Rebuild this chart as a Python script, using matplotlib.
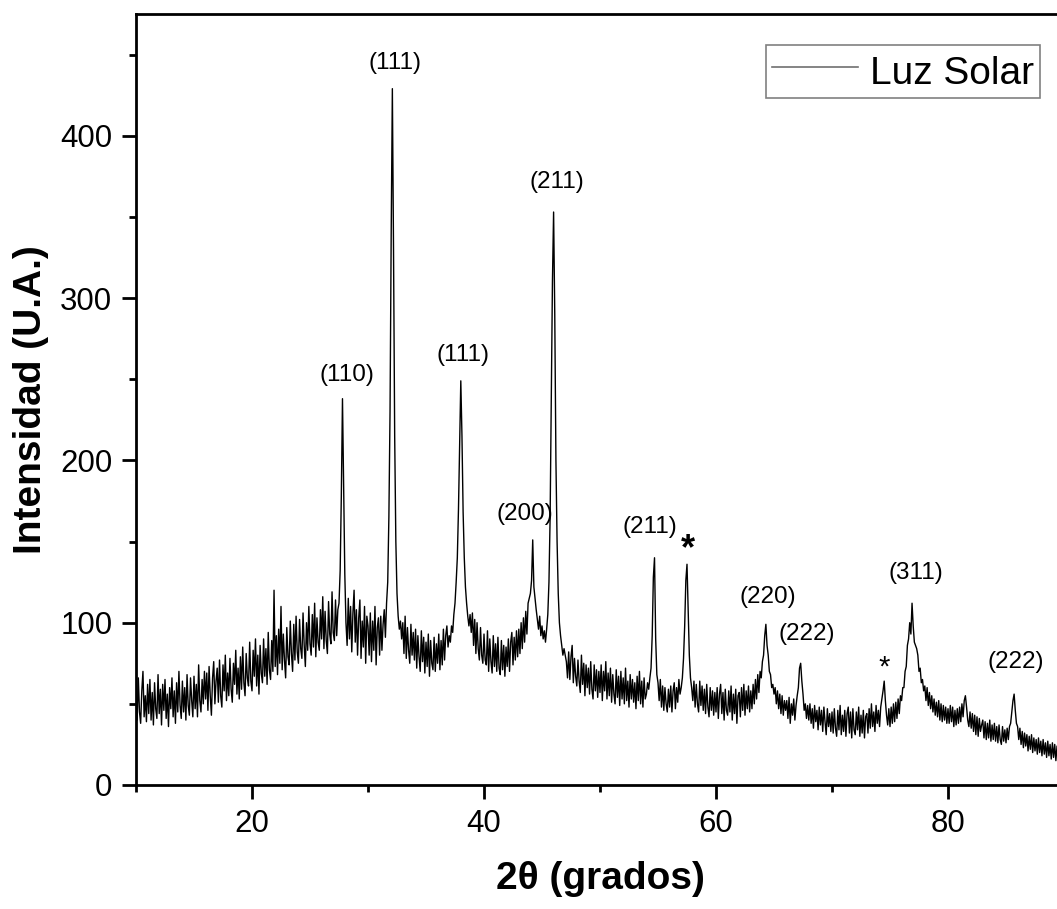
import numpy as np
import matplotlib
matplotlib.use("Agg")
import matplotlib.pyplot as plt
from matplotlib.ticker import MultipleLocator

plt.rcParams['font.family'] = ['Liberation Sans', 'DejaVu Sans']

# scan grid, 2theta from 10 to 90 in steps of 0.1
two_theta = np.round(np.arange(10.0, 90.05, 0.1), 1)

# intensity, one row per degree
intensity = [
    60, 40, 66, 45, 38, 58, 70, 42, 55, 39,     # 10
    62, 44, 65, 40, 57, 37, 63, 47, 41, 68,     # 11
    44, 59, 37, 62, 46, 65, 41, 56, 36, 60,     # 12
    47, 66, 42, 58, 38, 63, 45, 70, 49, 41,     # 13
    64, 45, 60, 40, 68, 49, 43, 66, 52, 42,     # 14
    67, 47, 62, 42, 74, 52, 45, 65, 50, 70,     # 15
    53, 69, 46, 73, 55, 43, 66, 76, 50, 64,     # 16
    72, 51, 77, 55, 48, 74, 58, 80, 52, 69,     # 17
    55, 78, 59, 51, 75, 62, 83, 56, 72, 53,     # 18
    79, 59, 85, 63, 55, 81, 66, 61, 88, 64,     # 19
    58, 83, 67, 90, 61, 80, 56, 86, 69, 63,     # 20
    90, 67, 84, 62, 94, 71, 65, 89, 70, 120,    # 21
    73, 92, 68, 96, 75, 110, 71, 93, 77, 66,    # 22
    97, 79, 74, 101, 81, 70, 99, 77, 104, 82,   # 23
    75, 102, 84, 78, 106, 86, 73, 100, 83, 110, # 24
    87, 80, 105, 85, 112, 79, 103, 88, 83, 108, # 25
    90, 116, 84, 107, 89, 81, 113, 93, 87, 119, # 26
    94, 89, 114, 92, 108, 112, 132, 178, 238, 182,  # 27
    130, 100, 86, 115, 90, 110, 82, 106, 120, 88,   # 28
    108, 80, 103, 114, 78, 101, 85, 110, 75, 104,   # 29
    98, 80, 106, 76, 101, 83, 110, 74, 97, 103,     # 30
    80, 104, 83, 99, 108, 91, 112, 125, 165, 230,   # 31
    340, 429, 330, 215, 150, 118, 104, 96, 101, 90, # 32
    100, 81, 104, 78, 97, 83, 75, 99, 80, 94,       # 33
    77, 96, 72, 92, 79, 70, 95, 76, 91, 69,         # 34
    88, 73, 93, 67, 89, 75, 71, 91, 70, 87,         # 35
    75, 93, 71, 89, 74, 96, 77, 92, 98, 85,         # 36
    92, 88, 98, 94, 105, 112, 125, 140, 170, 210,   # 37
    249, 215, 168, 140, 122, 112, 104, 98, 105, 94, # 38
    106, 86, 102, 81, 100, 84, 77, 97, 80, 75,      # 39
    93, 77, 74, 95, 70, 90, 76, 69, 92, 73,         # 40
    87, 70, 91, 72, 68, 89, 71, 86, 67, 85,         # 41
    73, 90, 70, 88, 94, 74, 91, 77, 95, 79,         # 42
    96, 81, 100, 84, 103, 88, 107, 93, 112, 115,    # 43
    118, 126, 151, 122, 115, 108, 102, 96, 104, 92, # 44
    98, 90, 95, 88, 96, 105, 125, 165, 240, 310,    # 45
    353, 290, 200, 150, 118, 100, 92, 86, 80, 84,   # 46
    80, 76, 66, 82, 65, 79, 86, 63, 78, 67,         # 47
    61, 77, 64, 57, 80, 62, 75, 55, 74, 60,         # 48
    72, 56, 76, 59, 53, 74, 58, 71, 54, 70,         # 49
    57, 74, 52, 70, 58, 76, 53, 69, 55, 72,         # 50
    51, 68, 56, 50, 71, 54, 67, 49, 70, 53,         # 51
    66, 50, 72, 52, 64, 48, 68, 53, 65, 51,         # 52
    63, 47, 67, 52, 70, 50, 64, 48, 66, 53,         # 53
    56, 63, 59, 66, 72, 92, 128, 140, 90, 68,       # 54
    63, 52, 65, 48, 61, 46, 60, 50, 45, 59,         # 55
    48, 61, 45, 58, 63, 47, 60, 51, 65, 56,         # 56
    60, 66, 78, 98, 126, 136, 108, 80, 66, 60,      # 57
    52, 64, 48, 62, 50, 45, 64, 49, 61, 46,         # 58
    59, 44, 62, 48, 42, 60, 46, 58, 43, 57,         # 59
    45, 60, 41, 56, 62, 44, 57, 40, 59, 46,         # 60
    43, 58, 45, 61, 40, 56, 44, 59, 38, 55,         # 61
    57, 42, 60, 46, 62, 43, 58, 47, 61, 45,         # 62
    58, 47, 62, 50, 65, 53, 68, 57, 70, 66,         # 63
    76, 80, 92, 99, 86, 80, 70, 68, 60, 62,         # 64
    56, 60, 50, 58, 47, 56, 44, 55, 43, 52,         # 65
    46, 52, 41, 54, 38, 50, 43, 53, 40, 49,         # 66
    55, 60, 72, 75, 64, 56, 46, 50, 41, 49,         # 67
    40, 50, 38, 47, 35, 49, 39, 46, 34, 48,         # 68
    37, 46, 33, 48, 39, 31, 47, 36, 44, 33,         # 69
    45, 32, 47, 35, 30, 46, 34, 49, 31, 43,         # 70
    33, 46, 30, 44, 48, 32, 45, 29, 47, 34,         # 71
    31, 45, 34, 48, 30, 43, 32, 46, 29, 42,         # 72
    44, 32, 47, 35, 50, 36, 45, 33, 49, 38,         # 73
    46, 36, 48, 53, 58, 64, 52, 43, 37, 47,         # 74
    36, 48, 38, 50, 39, 51, 41, 53, 44, 55,         # 75
    52, 60, 60, 70, 73, 86, 90, 100, 93, 112,       # 76
    98, 88, 86, 84, 80, 70, 72, 63, 65, 58,         # 77
    61, 52, 60, 49, 57, 47, 55, 45, 53, 43,         # 78
    51, 42, 52, 40, 50, 39, 49, 40, 48, 38,         # 79
    47, 38, 49, 39, 48, 36, 46, 37, 47, 38,         # 80
    48, 39, 50, 42, 52, 55, 48, 40, 36, 45,         # 81
    35, 44, 33, 43, 31, 42, 30, 41, 33, 37,         # 82
    40, 29, 39, 28, 38, 29, 40, 27, 37, 28,         # 83
    38, 27, 36, 26, 37, 28, 25, 36, 27, 34,         # 84
    26, 35, 28, 36, 38, 45, 52, 56, 46, 38,         # 85
    36, 28, 35, 25, 33, 23, 32, 24, 31, 21,         # 86
    30, 22, 31, 20, 29, 21, 28, 19, 29, 20,         # 87
    27, 18, 28, 19, 26, 17, 27, 18, 25, 16,         # 88
    26, 17, 25, 15, 24, 16, 25, 14, 23, 18,         # 89
    20,
]

# peak labels: text, 2theta, height of the label bottom
peak_labels = ["(110)", "(111)", "(111)", "(200)", "(211)", "(211)",
               "(220)", "(222)", "(311)", "(222)"]
label_x = [28.2, 32.3, 38.2, 43.5, 46.3, 54.3, 64.5, 67.8, 77.2, 85.8]
label_y = [246, 438, 258, 160, 365, 152, 109, 86, 124, 69]

# asterisks for secondary phase
star_x = [57.6, 74.5]
star_y = [134, 64]

fig = plt.figure(figsize=(10.57, 9.09), dpi=100)
ax = fig.add_axes([136 / 1057, 1 - 785 / 909, 928 / 1057, 771 / 909])

line, = ax.plot(two_theta, intensity, color='black', lw=1.0, label='Luz Solar')

for txt, xx, yy in zip(peak_labels, label_x, label_y):
    ax.text(xx, yy, txt, ha='center', va='bottom', fontsize=17.5)

ax.text(star_x[0], star_y[0], '*', ha='center', va='bottom', fontsize=26, fontweight='bold')
ax.text(star_x[1], star_y[1], '*', ha='center', va='bottom', fontsize=21)

ax.set_xlim(10, 90)
ax.set_ylim(0, 475)
ax.xaxis.set_major_locator(MultipleLocator(20))
ax.xaxis.set_minor_locator(MultipleLocator(10))
ax.yaxis.set_major_locator(MultipleLocator(100))
ax.yaxis.set_minor_locator(MultipleLocator(50))
ax.tick_params(which='both', direction='out', width=2, labelsize=22.5, pad=7)
ax.tick_params(which='major', length=10)
ax.tick_params(which='minor', length=5)
for s in ax.spines.values():
    s.set_linewidth(2)

ax.set_xlabel('2θ (grados)', fontsize=28, fontweight='bold', labelpad=16)
ax.set_ylabel('Intensidad (U.A.)', fontsize=28, fontweight='bold', labelpad=8)

leg = ax.legend(loc='upper right', bbox_to_anchor=(1040 / 1057, 1 - 45 / 909),
                bbox_transform=fig.transFigure, borderaxespad=0, fontsize=28,
                fancybox=False, edgecolor='#808080', handlelength=2.2,
                handleheight=1.15, handletextpad=0.3, borderpad=0.16,
                framealpha=1)
leg.get_frame().set_linewidth(1.2)
leg.get_lines()[0].set_color('#707070')
leg.get_lines()[0].set_linewidth(1.2)

fig.savefig('out.png', dpi=100)
